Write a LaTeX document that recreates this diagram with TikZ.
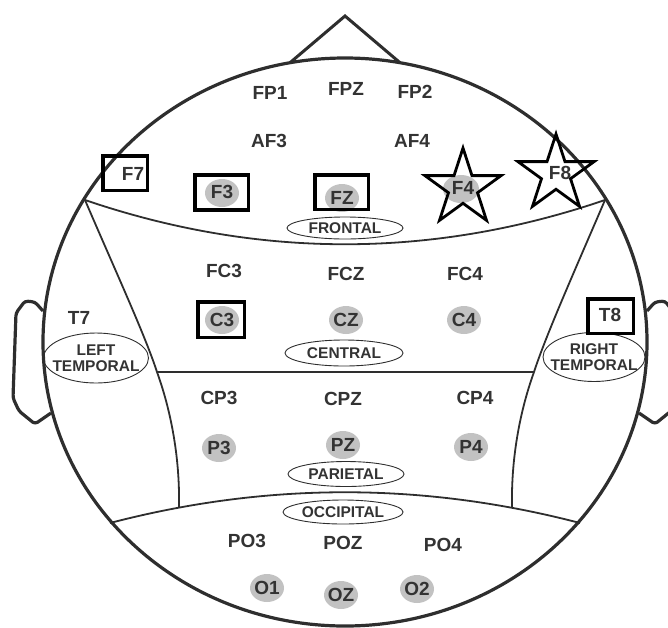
\documentclass[tikz,border=0pt]{standalone}
\usepackage{fontspec}
\setmainfont{Liberation Sans}
\usetikzlibrary{shapes.geometric}
\definecolor{ink}{HTML}{2E2E2E}
\definecolor{txt}{HTML}{333333}
\definecolor{gelgrey}{HTML}{C2C2C2}
\begin{document}
\begin{tikzpicture}[x=1pt,y=-1pt,
  outline/.style={draw=ink, line width=3.2pt, line join=round},
  divider/.style={draw=ink, line width=1.8pt},
  site/.style={inner sep=0pt, text=txt, font=\fontsize{19}{19}\selectfont\bfseries},
  gel/.style={ellipse, fill=gelgrey, minimum width=34pt, minimum height=28pt, inner sep=0pt},
  pickbox/.style={rectangle, draw=black, line width=3.5pt, inner sep=0pt},
  pickstar/.style={star, star points=5, star point ratio=2.618, draw=black,
    line width=2.8pt, minimum size=80pt, inner sep=0pt, line join=miter},
  zone/.style={ellipse, draw=ink, line width=0.9pt, inner sep=0pt},
  zonetext/.style={inner sep=0pt, text=txt, align=center,
    font=\fontsize{15.5}{16}\selectfont\bfseries}
]
\clip (0,0) rectangle (668,627);

% head, nose and ears
\coordinate (headc) at (345,342);
\draw[outline] (headc) ellipse [x radius=302, y radius=284];
\draw[outline, line width=3pt, line join=miter] (290,62.7) -- (345,16) -- (400,62.7);
\draw[outline, rounded corners=3pt] (43,311) -- (35,302) -- (25,301) -- (16,313)
  -- (13,398) -- (19,411) -- (35,424) -- (51,413);
\draw[outline, rounded corners=3pt] (647,311) -- (655,302) -- (665,301) -- (674,313)
  -- (677,398) -- (671,411) -- (655,424) -- (639,413);

% lobe boundaries
\coordinate (fl) at (85,200);  \coordinate (fr) at (605,200);
\coordinate (cl) at (157,372); \coordinate (cr) at (534,372);
\coordinate (pl) at (179,507); \coordinate (pr) at (512,507);
\coordinate (ol) at (110,523); \coordinate (or) at (580,523);
\draw[divider] (fl) .. controls (258,259) and (432,259) .. (fr);
\draw[divider] (fl) .. controls (115,270) and (145,335) .. (cl)
  .. controls (170,408) and (180,455) .. (pl);
\draw[divider] (fr) .. controls (575,270) and (546,335) .. (cr)
  .. controls (521,408) and (511,455) .. (pr);
\draw[divider] (cl) -- (cr);
\draw[divider] (ol) .. controls (267,482) and (423,482) .. (or);

% lobe names
\node[zone, minimum width=116pt, minimum height=22pt] (frontal) at (345,228) {};
\node[zonetext] at (frontal) {FRONTAL};
\node[zone, minimum width=118pt, minimum height=26pt] (central) at (344,353) {};
\node[zonetext] at (central) {CENTRAL};
\node[zone, minimum width=116pt, minimum height=25pt] (parietal) at (346,474) {};
\node[zonetext] at (parietal) {PARIETAL};
\node[zone, minimum width=120pt, minimum height=24pt] (occipital) at (343,512) {};
\node[zonetext] at (occipital) {OCCIPITAL};
\node[zone, minimum width=105pt, minimum height=50pt] (ltemp) at (96,358) {};
\node[zonetext] at (ltemp) {LEFT\\TEMPORAL};
\node[zone, minimum width=102pt, minimum height=49pt] (rtemp) at (594,357) {};
\node[zonetext] at (rtemp) {RIGHT\\TEMPORAL};

% gel pads
\node[gel] (gf3) at (222,193) {};
\node[gel] (gfz) at (342,198) {};
\node[gel, minimum width=36pt] (gf4) at (461,189) {};
\node[gel] (gc3) at (222,320) {};
\node[gel] (gcz) at (346,320) {};
\node[gel] (gc4) at (464,320) {};
\node[gel] (gp3) at (219,448) {};
\node[gel] (gpz) at (343,445) {};
\node[gel] (gp4) at (471,447) {};
\node[gel] (go1) at (267,588) {};
\node[gel] (goz) at (341,595) {};
\node[gel] (go2) at (417,589) {};

% selected channels
\node[pickbox, minimum width=44.5pt, minimum height=34.5pt] (bf7) at (125,173) {};
\node[pickbox, minimum width=53.5pt, minimum height=35pt] (bf3) at (221.5,192.5) {};
\node[pickbox, minimum width=53.5pt, minimum height=34.5pt] (bfz) at (341.5,192) {};
\node[pickbox, minimum width=46.5pt, minimum height=35.5pt] (bc3) at (221,319.5) {};
\node[pickbox, minimum width=45.5pt, minimum height=34.5pt] (bt8) at (610.5,316) {};
\node[pickstar] (sf4) at (463,188) {};
\node[pickstar] (sf8) at (556,174) {};

% electrode labels
\node[site] (fp1) at (270,93) {FP1};
\node[site] (fpz) at (346,89) {FPZ};
\node[site] (fp2) at (415,92) {FP2};
\node[site] (af3) at (269,141) {AF3};
\node[site] (af4) at (412,141) {AF4};
\node[site] (f7) at (133,174) {F7};
\node[site] (f3) at (222,192) {F3};
\node[site] (fz) at (342,198) {FZ};
\node[site] (f4) at (463,188) {F4};
\node[site] (f8) at (560,173) {F8};
\node[site] (fc3) at (224,271) {FC3};
\node[site] (fcz) at (346,274) {FCZ};
\node[site] (fc4) at (465,274) {FC4};
\node[site] (t7) at (79,318) {T7};
\node[site] (c3) at (222,320) {C3};
\node[site] (cz) at (346,320) {CZ};
\node[site] (c4) at (464,320) {C4};
\node[site] (t8) at (610,315) {T8};
\node[site] (cp3) at (219,398) {CP3};
\node[site] (cpz) at (343,399) {CPZ};
\node[site] (cp4) at (475,398) {CP4};
\node[site] (p3) at (219,448) {P3};
\node[site] (pz) at (343,445) {PZ};
\node[site] (p4) at (471,447) {P4};
\node[site] (po3) at (247,541) {PO3};
\node[site] (poz) at (343,543) {POZ};
\node[site] (po4) at (443,545) {PO4};
\node[site] (o1) at (267,588) {O1};
\node[site] (oz) at (341,595) {OZ};
\node[site] (o2) at (417,589) {O2};
\end{tikzpicture}
\end{document}
